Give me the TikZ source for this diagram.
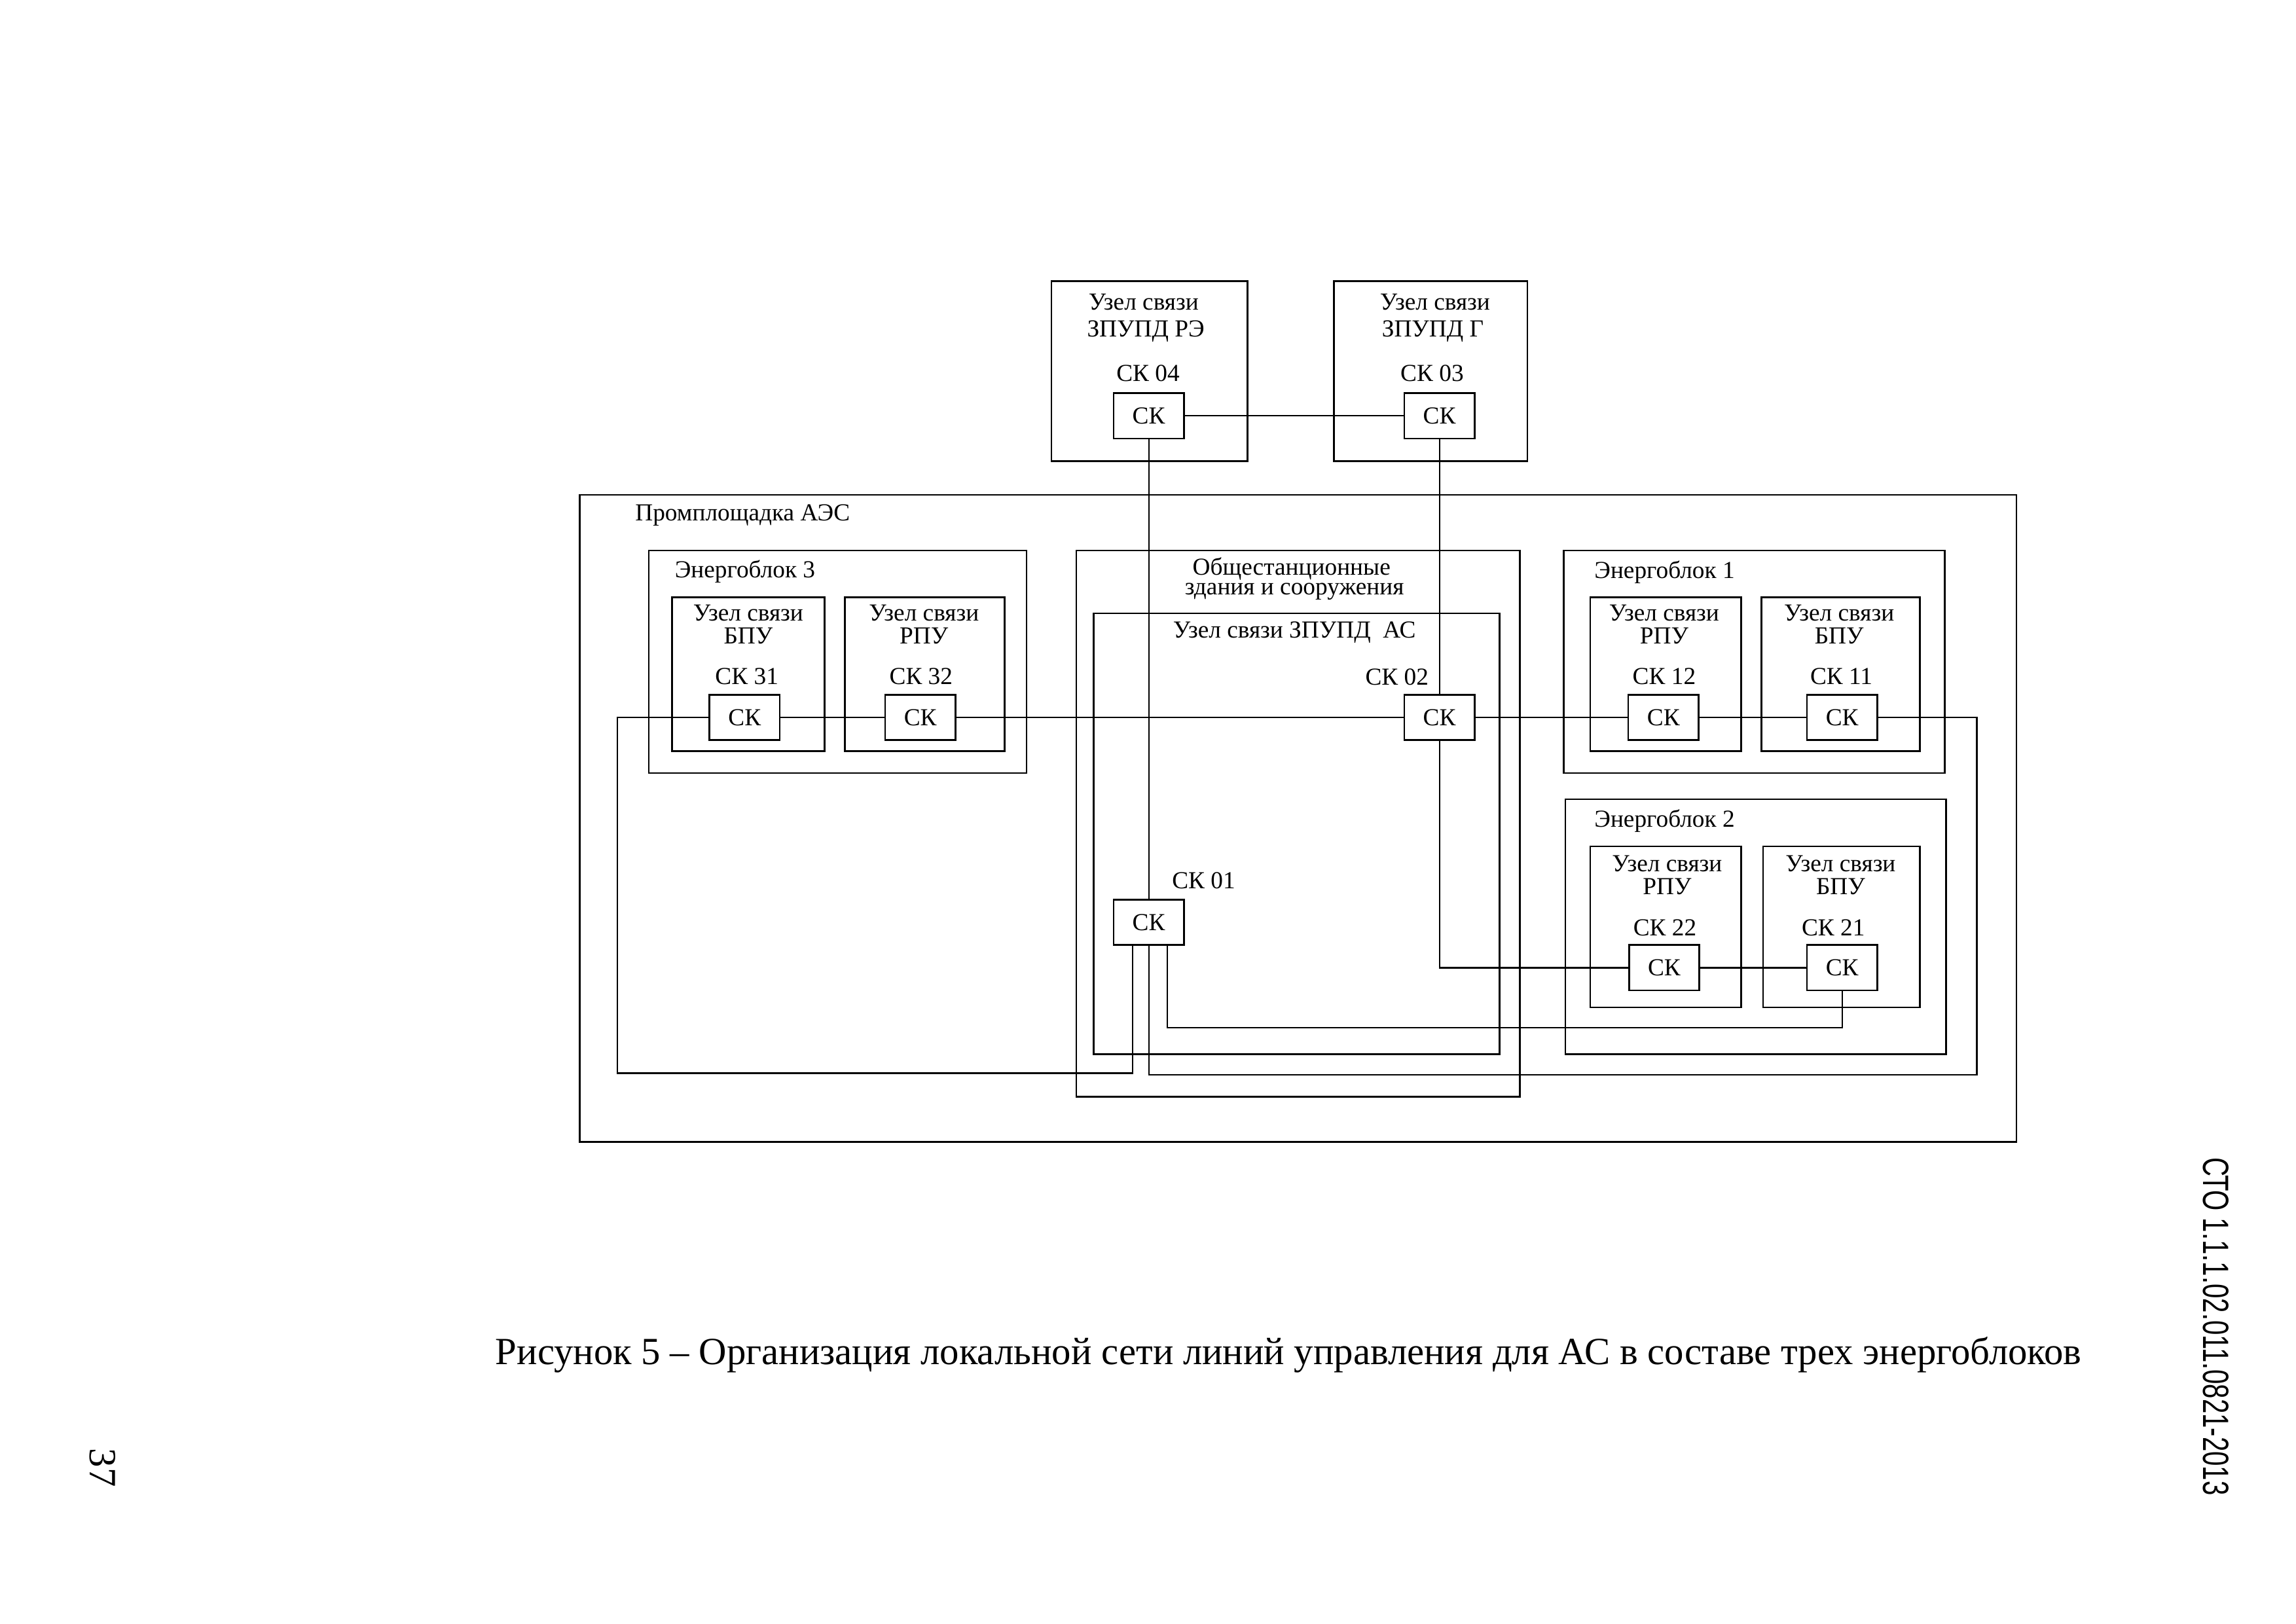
\documentclass[tikz,border=0pt]{standalone}
\usepackage{fontspec}
\setmainfont{Liberation Serif}
\newfontfamily\hdrfont{Liberation Sans}
\usepackage{graphicx}
\usetikzlibrary{fit,calc}
\newcommand{\lblf}{\fontsize{9.5}{11}\selectfont}
\begin{document}
\begin{tikzpicture}[x=0.02cm,y=-0.02cm,
  frame/.style={draw,line width=0.65pt,inner sep=0pt},
  ckbox/.style={draw,line width=0.65pt,minimum width=0.96cm,minimum height=0.62cm,inner sep=0pt,font=\lblf},
  lbl/.style={anchor=base,inner sep=0pt,font=\lblf},
  lbll/.style={anchor=base west,inner sep=0pt,font=\lblf},
  wire/.style={line width=0.55pt}]
\useasboundingbox (0,0) rectangle (1568,1109);
% frames
\node[frame,fit={(718,192)(852,315)}] (fre) {};
\node[frame,fit={(911,192)(1043,315)}] (fg) {};
\node[frame,fit={(396,338)(1377,780)}] (fpp) {};
\node[frame,fit={(443,376)(701,528)}] (fe3) {};
\node[frame,fit={(459,408)(563,513)}] (fb3) {};
\node[frame,fit={(577,408)(686,513)}] (fr3) {};
\node[frame,fit={(735,376)(1038,749)}] (fob) {};
\node[frame,fit={(747,419)(1024,720)}] (fas) {};
\node[frame,fit={(1068,376)(1328,528)}] (fe1) {};
\node[frame,fit={(1086,408)(1189,513)}] (fr1) {};
\node[frame,fit={(1203,408)(1311,513)}] (fb1) {};
\node[frame,fit={(1069,546)(1329,720)}] (fe2) {};
\node[frame,fit={(1086,578)(1189,688)}] (fr2) {};
\node[frame,fit={(1204,578)(1311,688)}] (fb2) {};
% switches
\node[ckbox] (ck04) at (784.5,284) {СК};
\node[ckbox] (ck03) at (983,284) {СК};
\node[ckbox] (ck31) at (508.5,490) {СК};
\node[ckbox] (ck32) at (628.5,490) {СК};
\node[ckbox] (ck02) at (983,490) {СК};
\node[ckbox] (ck12) at (1136,490) {СК};
\node[ckbox] (ck11) at (1258,490) {СК};
\node[ckbox] (ck01) at (784.5,630) {СК};
\node[ckbox] (ck22) at (1136.5,661) {СК};
\node[ckbox] (ck21) at (1258,661) {СК};
% labels top
\node[lbl] (t1) at (781,211.5) {Узел связи};
\node[lbl] (t2) at (782.5,230) {ЗПУПД РЭ};
\node[lbl] (t3) at (784,260.5) {СК 04};
\node[lbl] (t4) at (980,211.5) {Узел связи};
\node[lbl] (t5) at (978.5,230) {ЗПУПД Г};
\node[lbl] (t6) at (978,260.5) {СК 03};
% site
\node[lbll] (t7) at (433.5,355.5) {Промплощадка АЭС};
% unit 3
\node[lbll] (t8) at (460.5,394.5) {Энергоблок 3};
\node[lbl] (t9) at (511,424) {Узел связи};
\node[lbl] (t10) at (511,439.5) {БПУ};
\node[lbl] (t11) at (510,467.5) {СК 31};
\node[lbl] (t12) at (631,424) {Узел связи};
\node[lbl] (t13) at (631,439.5) {РПУ};
\node[lbl] (t14) at (629,467.5) {СК 32};
% common buildings
\node[lbl,text depth=1.2pt] (t15) at (882,392.6) {Общестанционные};
\node[lbl,text height=4.3pt] (t16) at (884,406.4) {здания и сооружения};
\node[lbl] (t17) at (884,435.5) {Узел связи ЗПУПД\ \ АС};
\node[lbl] (t18) at (954,468) {СК 02};
\node[lbl] (t19) at (822,607) {СК 01};
% unit 1
\node[lbll] (t20) at (1088.5,395) {Энергоблок 1};
\node[lbl] (t21) at (1136.5,424) {Узел связи};
\node[lbl] (t22) at (1136.5,439.5) {РПУ};
\node[lbl] (t23) at (1136.5,467.5) {СК 12};
\node[lbl] (t24) at (1256,424) {Узел связи};
\node[lbl] (t25) at (1256,439.5) {БПУ};
\node[lbl] (t26) at (1257.5,467.5) {СК 11};
% unit 2
\node[lbll] (t27) at (1088.5,565) {Энергоблок 2};
\node[lbl] (t28) at (1138.5,595.5) {Узел связи};
\node[lbl] (t29) at (1138.5,611) {РПУ};
\node[lbl] (t30) at (1137,639) {СК 22};
\node[lbl] (t31) at (1257,595.5) {Узел связи};
\node[lbl] (t32) at (1257,611) {БПУ};
\node[lbl] (t33) at (1252,639) {СК 21};
% connections
\coordinate (b1) at ($(ck01.south)+(-11,0)$);
\coordinate (b3) at ($(ck01.south)+(12.5,0)$);
\coordinate (lx) at (421.5,733);
\coordinate (rx) at (1350,734);
\coordinate (dy) at (1258,702);
\draw[wire] (ck04) -- (ck03);
\draw[wire] (ck04) -- (ck01);
\draw[wire] (ck03) -- (ck02);
\draw[wire] (ck31) -- (ck32);
\draw[wire] (ck32) -- (ck02);
\draw[wire] (ck02) -- (ck12);
\draw[wire] (ck12) -- (ck11);
\draw[wire] (ck31.west) -| (lx) -| (b1);
\draw[wire] (ck11.east) -| (rx) -| (ck01.south);
\draw[wire] (ck02.south) |- (ck22.west);
\draw[wire] (ck22) -- (ck21);
\draw[wire] (ck21.south) |- (b3 |- dy) -- (b3);
% caption and page marks
\node[anchor=base,inner sep=0pt,font=\fontsize{14.95}{17}\selectfont] (cap) at (880,932.2) {Рисунок 5 – Организация локальной сети линий управления для АС в составе трех энергоблоков};
\node[rotate=-90,inner sep=0pt,font=\fontsize{15}{17}\selectfont] (pg) at (70.2,1002.5) {37};
\node[rotate=-90,inner sep=0pt,font=\hdrfont\fontsize{14.2}{16}\selectfont] (hdr) at (1513.5,906) {\scalebox{0.72}[1]{СТО 1.1.1.02.011.0821-2013}};
\end{tikzpicture}
\end{document}
